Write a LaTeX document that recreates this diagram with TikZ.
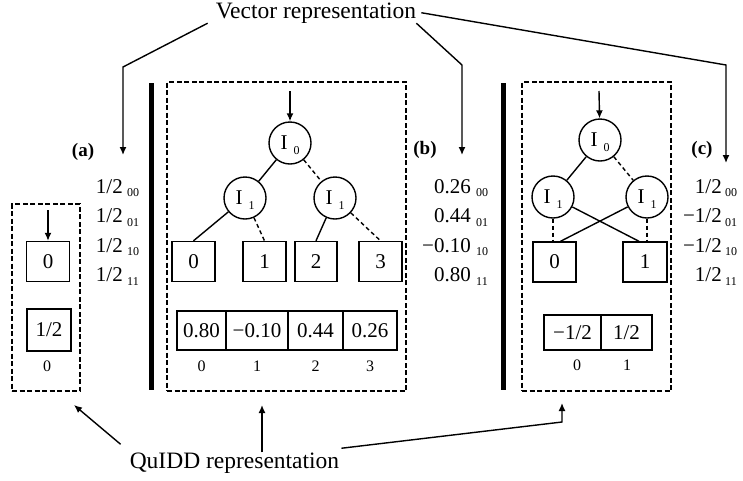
\documentclass[tikz,border=0pt]{standalone}
\usepackage{fontspec}
\setmainfont{Liberation Serif}
\usetikzlibrary{arrows.meta}

% font sizes
\newcommand{\fsbig}{\fontsize{23.5}{27}\selectfont}
\newcommand{\fsval}{\fontsize{21}{25}\selectfont}
\newcommand{\fssub}{\fontsize{12}{14}\selectfont}
\newcommand{\fsidx}{\fontsize{16}{19}\selectfont}
\newcommand{\fstag}{\fontsize{19}{22}\selectfont\bfseries}
% variable label inside an internal node, e.g. I_0
\newcommand{\Ivar}[1]{I\hspace{6pt}\raisebox{-5pt}[0pt][0pt]{\fssub #1}}

\tikzset{
  panel/.style={draw, line width=1.4pt, dash pattern=on 5pt off 2.5pt, inner sep=0pt},
  sepbar/.style={line width=5pt},
  term/.style={draw, line width=1.4pt, minimum width=43pt, minimum height=40pt, inner sep=0pt, font=\fsval},
  inner/.style={draw, circle, line width=1.4pt, minimum size=42pt, inner sep=0pt, font=\fsval},
  cell/.style={draw, line width=1.4pt, inner sep=0pt, font=\fsval},
  idx/.style={font=\fsidx, inner sep=0pt},
  val/.style={font=\fsval, anchor=base east, inner sep=0pt},
  sub/.style={font=\fssub, anchor=base west, inner sep=0pt},
  tag/.style={font=\fstag, inner sep=0pt},
  hiedge/.style={line width=1.4pt},
  loedge/.style={line width=1.4pt, dash pattern=on 4pt off 3pt},
  ptr/.style={line width=1.4pt, -{Latex[length=8pt,width=7pt]}},
  caption/.style={font=\fsbig, inner sep=0pt, anchor=base},
}

\begin{document}
\begin{tikzpicture}[x=1pt,y=-1pt]
\useasboundingbox (0,0) rectangle (743,480);

% ---------- panels and separators ----------
\node[panel, minimum width=68pt, minimum height=187pt] (pa) at (46,297.5) {};
\node[panel, minimum width=239pt, minimum height=309pt] (pb) at (286.5,236.5) {};
\node[panel, minimum width=149pt, minimum height=309pt] (pc) at (596.5,236.5) {};
\draw[sepbar] (151,83) -- (151,390);
\draw[sepbar] (503,83) -- (503,390);

% ---------- (a): a single terminal ----------
\node[term] (a0) at (48,261.5) {0};
\coordinate (a0in) at (48,210);
\draw[ptr] (a0in) -- (a0);
\node[cell, minimum width=44pt, minimum height=42pt] (acell) at (49,330) {1/2};
\node[idx] (aidx) at (47,366) {0};

% ---------- (b): two-level QuIDD ----------
\node[inner] (b0) at (290,143) {\Ivar{0}};
\node[inner] (b1l) at (245,198) {\Ivar{1}};
\node[inner] (b1r) at (335,198) {\Ivar{1}};
\node[term] (bt0) at (193.5,261.5) {0};
\node[term] (bt1) at (264.5,261.5) {1};
\node[term, minimum width=42pt] (bt2) at (316,261.5) {2};
\node[term] (bt3) at (380.5,261.5) {3};
\coordinate (b0in) at (290,91);
\draw[ptr] (b0in) -- (b0);
\draw[hiedge] (b0) -- (b1l);
\draw[loedge] (b0) -- (b1r);
\draw[hiedge] (b1l) -- (bt0.north);
\draw[loedge] (b1l) -- (bt1.north);
\draw[hiedge] (b1r) -- (bt2.north);
\draw[loedge] (b1r) -- (bt3.north);

\node[cell, minimum width=49pt, minimum height=39pt] (bc0) at (201.5,330.5) {0.80};
\node[cell, minimum width=62pt, minimum height=39pt] (bc1) at (257,330.5) {−0.10};
\node[cell, minimum width=55pt, minimum height=39pt] (bc2) at (315.5,330.5) {0.44};
\node[cell, minimum width=54pt, minimum height=39pt] (bc3) at (370,330.5) {0.26};
\node[idx] (bi0) at (201.5,366) {0};
\node[idx] (bi1) at (257,366) {1};
\node[idx] (bi2) at (315.5,366) {2};
\node[idx] (bi3) at (370,366) {3};

% ---------- (c): shared terminals ----------
\node[inner] (c0) at (600,140) {\Ivar{0}};
\node[inner] (c1l) at (553,197) {\Ivar{1}};
\node[inner] (c1r) at (647,197) {\Ivar{1}};
\node[term] (ct0) at (554.5,262) {0};
\node[term, minimum width=44pt] (ct1) at (645,262) {1};
\coordinate (c0in) at (599,91);
\draw[ptr] (c0in) -- (c0);
\draw[hiedge] (c0) -- (c1l);
\draw[loedge] (c0) -- (c1r);
\draw[loedge] (c1l) -- (c1l |- ct0.north);
\draw[loedge] (c1r) -- (c1r |- ct1.north);
\draw[hiedge] (c1l) -- ([xshift=-6pt]ct1.north);
\draw[hiedge] (c1r) -- ([xshift=6pt]ct0.north);

\node[cell, minimum width=57pt, minimum height=35pt] (cc0) at (572.5,332.5) {−1/2};
\node[cell, minimum width=51pt, minimum height=35pt] (cc1) at (626.5,332.5) {1/2};
\node[idx] (ci0) at (577,365) {0};
\node[idx] (ci1) at (627,365) {1};

% ---------- tags ----------
\node[tag] (taga) at (83,152) {(a)};
\node[tag] (tagb) at (425,150) {(b)};
\node[tag] (tagc) at (702,150) {(c)};

% ---------- state vectors ----------
\foreach \y/\n/\s in {193/1\slash2/00, 222.5/1\slash2/01, 252/1\slash2/10, 281.5/1\slash2/11}{
  \node[val] at (123,\y) {\n};
  \node[sub] at (127,\y+3.5) {\s};
}
\foreach \y/\n/\s in {193/0.26/00, 222.5/0.44/01, 252/−0.10/10, 281.5/0.80/11}{
  \node[val] at (471,\y) {\n};
  \node[sub] at (476,\y+3.5) {\s};
}
\foreach \y/\n/\s in {193/1\slash2/00, 222.5/−1\slash2/01, 252/−1\slash2/10, 281.5/1\slash2/11}{
  \node[val] at (722,\y) {\n};
  \node[sub] at (725,\y+3.5) {\s};
}

% ---------- captions and leaders ----------
\node[caption] (vec) at (316,18) {Vector representation};
\coordinate (vabend) at (123,67);
\coordinate (vatip) at (123,155);
\coordinate (vbbend) at (462,65);
\coordinate (vbtip) at (462,155);
\coordinate (vcbend) at (726,65);
\coordinate (vctip) at (726,163);
\draw[ptr] ([xshift=-8pt]vec.south west) -- (vabend) -- (vatip);
\draw[ptr] (vec.south east) -- (vbbend) -- (vbtip);
\draw[ptr] ([xshift=5pt]vec.east) -- (vcbend) -- (vctip);

\node[caption] (quidd) at (234.5,468) {QuIDD representation};
\coordinate (qatip) at (74,405);
\coordinate (qbtip) at (262,405);
\coordinate (qcbend) at (562,422);
\coordinate (qctip) at (562,403);
\draw[ptr] ([xshift=-9pt,yshift=8pt]quidd.north west) -- (qatip);
\draw[ptr] (quidd.north -| qbtip) -- (qbtip);
\draw[ptr] ([xshift=2pt,yshift=4pt]quidd.north east) -- (qcbend) -- (qctip);
\end{tikzpicture}
\end{document}
